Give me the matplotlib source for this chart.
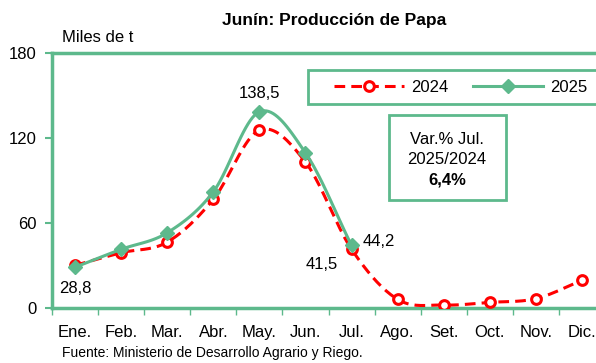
import matplotlib
matplotlib.use("Agg")
import matplotlib.pyplot as plt
import numpy as np
from matplotlib.patches import Rectangle

months = ["Ene.", "Feb.", "Mar.", "Abr.", "May.", "Jun.", "Jul.", "Ago.", "Set.", "Oct.", "Nov.", "Dic."]
prod_2024 = [30.1, 39.0, 46.5, 76.7, 125.5, 103.0, 41.5, 6.1, 2.1, 4.0, 6.6, 19.5]
prod_2025 = [28.8, 41.4, 53.1, 82.0, 138.5, 109.5, 44.2]
yticks = [0, 60, 120, 180]

GREEN = "#5DB98C"
RED = "#FF0000"

plt.rcParams["font.family"] = "Liberation Sans"

W, H = 596, 363


def fx(px):
    return px / W


def fy(py):
    return 1 - py / H


def smooth(x, y, n=20):
    # Catmull-Rom curve through the points, like a smoothed line in a spreadsheet
    x = np.asarray(x, float)
    y = np.asarray(y, float)
    px = np.concatenate([[2 * x[0] - x[1]], x, [2 * x[-1] - x[-2]]])
    py = np.concatenate([[2 * y[0] - y[1]], y, [2 * y[-1] - y[-2]]])
    xs, ys = [], []
    t = np.linspace(0, 1, n, endpoint=False)
    for i in range(1, len(px) - 2):
        for arr, out in ((px, xs), (py, ys)):
            p0, p1, p2, p3 = arr[i - 1], arr[i], arr[i + 1], arr[i + 2]
            out.extend(0.5 * (2 * p1 + (-p0 + p2) * t + (2 * p0 - 5 * p1 + 4 * p2 - p3) * t ** 2
                              + (-p0 + 3 * p1 - 3 * p2 + p3) * t ** 3))
    xs.append(x[-1])
    ys.append(y[-1])
    return np.array(xs), np.array(ys)


fig = plt.figure(figsize=(W / 100, H / 100), dpi=100)
ax = fig.add_axes([fx(52), fy(308), 553 / W, 255 / H])

x24 = np.arange(len(prod_2024))
x25 = np.arange(len(prod_2025))

sx, sy = smooth(x24, prod_2024)
ax.plot(sx, sy, color=RED, lw=2.2, ls=(0, (3.5, 2)), zorder=3)
ax.plot(x24, prod_2024, ls="none", marker="o", ms=7, mfc="white", mec=RED, mew=2.2, zorder=4)

sx, sy = smooth(x25, prod_2025)
ax.plot(sx, sy, color=GREEN, lw=2.2, zorder=5)
ax.plot(x25, prod_2025, ls="none", marker="D", ms=7, color=GREEN, zorder=6)

ax.set_xlim(-0.5, len(months) - 0.5)
ax.set_ylim(0, 180)
ax.set_yticks(yticks)
ax.set_yticklabels([str(v) for v in yticks], fontsize=12)
ax.set_xticks(x24)
ax.set_xticklabels(months, fontsize=12)
ax.tick_params(axis="x", length=0, pad=12)
ax.set_xticks(np.arange(-0.5, len(months), 1), minor=True)
ax.tick_params(axis="x", which="minor", length=5, color=GREEN, width=1)
ax.tick_params(axis="y", length=5, color=GREEN, width=1.5, pad=6)

for side in ("left", "bottom", "top"):
    ax.spines[side].set_color(GREEN)
    ax.spines[side].set_linewidth(2.5)
ax.spines["right"].set_visible(False)

# value labels
ax.annotate("138,5", (4, prod_2025[4]), xytext=(0, 8), textcoords="offset points",
            ha="center", va="bottom", fontsize=12)
ax.annotate("28,8", (0, prod_2025[0]), xytext=(0, -10), textcoords="offset points",
            ha="center", va="top", fontsize=12)
ax.annotate("44,2", (6, prod_2025[6]), xytext=(8, 3), textcoords="offset points",
            ha="left", va="center", fontsize=12)
ax.annotate("41,5", (6, prod_2024[6]), xytext=(-10, -11), textcoords="offset points",
            ha="right", va="center", fontsize=12)

fig.text(fx(334), fy(20), "Junín: Producción de Papa", ha="center", va="center",
         fontsize=12.5, fontweight="bold")
fig.text(fx(62), fy(38), "Miles de t", ha="left", va="center", fontsize=12)
fig.text(fx(62), fy(353), "Fuente: Ministerio de Desarrollo Agrario y Riego.",
         ha="left", va="center", fontsize=10)

# legend with its own frame
fig.add_artist(Rectangle((fx(308), fy(104)), (602 - 308) / W, 34 / H, transform=fig.transFigure,
                         fc="white", ec=GREEN, lw=2, zorder=7))
leg = fig.legend([ax.lines[0], ax.lines[2]], ["2024", "2025"], ncol=2, loc="center left",
                 bbox_to_anchor=(fx(326), fy(87)), frameon=False, fontsize=12,
                 handlelength=4.2, handletextpad=0.4, columnspacing=1.5, borderpad=0)
leg.set_zorder(8)
h24, h25 = leg.legend_handles
h24.set_marker("o")
h24.set_markerfacecolor("white")
h24.set_markeredgecolor(RED)
h24.set_markeredgewidth(2.2)
h24.set_markersize(7)
h25.set_marker("D")
h25.set_markersize(7)
h25.set_color(GREEN)

# variation box
fig.add_artist(Rectangle((fx(389), fy(200)), (506 - 389) / W, 85 / H, transform=fig.transFigure,
                         fc="white", ec=GREEN, lw=2, zorder=7))
fig.text(fx(447), fy(140), "Var.% Jul.", ha="center", va="center", fontsize=12, zorder=8)
fig.text(fx(447), fy(160), "2025/2024", ha="center", va="center", fontsize=12, zorder=8)
fig.text(fx(447), fy(180), "6,4%", ha="center", va="center", fontsize=12, fontweight="bold", zorder=8)

fig.savefig("out.png", dpi=100)
